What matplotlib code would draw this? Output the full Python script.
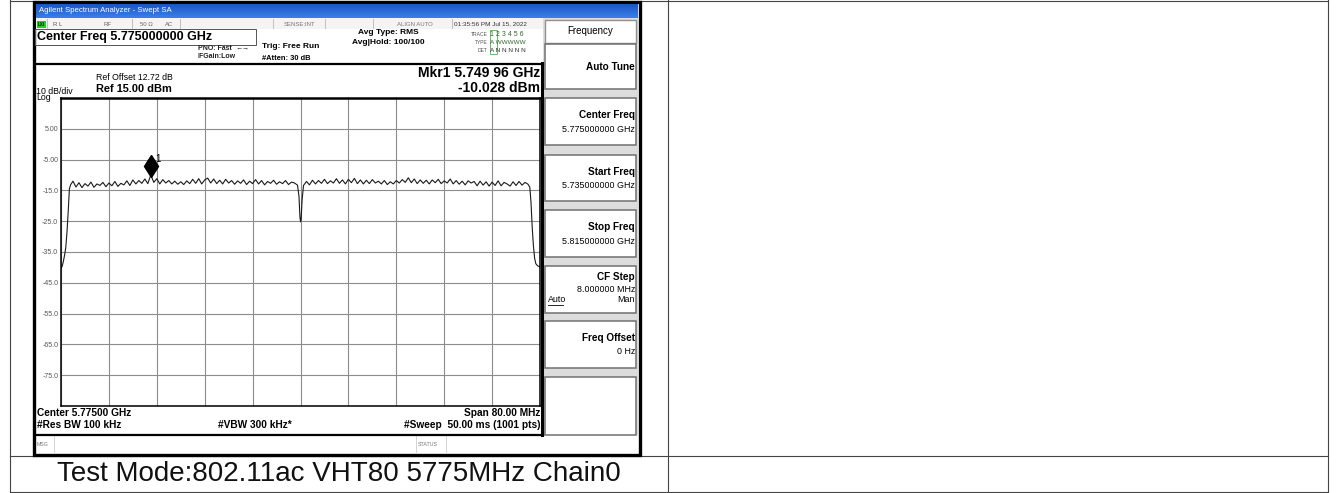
import numpy as np
import matplotlib
matplotlib.use('Agg')
import matplotlib.pyplot as plt
from matplotlib.patches import Rectangle
from matplotlib import transforms

plt.rcParams['font.family'] = ['Liberation Sans', 'DejaVu Sans']

# sweep settings
start_mhz = 5735.0
stop_mhz = 5815.0
ref_dbm = 15.0
bottom_dbm = -85.0
ytick_vals = [5, -5, -15, -25, -35, -45, -55, -65, -75]
ytick_text = ['5.00', '-5.00', '-15.0', '-25.0', '-35.0', '-45.0', '-55.0', '-65.0', '-75.0']

# lower skirt of the channel
skirt_lo_f = [5735.0, 5735.2, 5735.4, 5735.6, 5735.8, 5736.0, 5736.2, 5736.4, 5736.6, 5736.8]
skirt_lo_db = [-40.3, -39.6, -38.0, -36.0, -33.5, -28.5, -22.0, -14.5, -13.2, -12.6]

# in-band level, 0.5 MHz apart, 5737.0 .. 5774.5 MHz
band_a_start = 5737.0
band_a_db = [-12.0, -13.9, -12.5, -14.1, -12.8, -13.6, -12.3, -14.0, -12.9, -13.4,
             -12.4, -13.8, -12.6, -13.5, -12.1, -13.7, -12.7, -13.2, -11.9, -13.4,
             -11.6, -12.9, -11.8, -12.7, -11.3, -12.8, -10.0, -12.4, -11.2, -12.9,
             -11.5, -12.6, -11.8, -12.9, -12.0, -13.0, -12.2, -13.1, -11.9, -12.8,
             -11.4, -12.7, -11.2, -12.9, -11.6, -11.0, -12.6, -11.3, -12.8, -11.7,
             -12.9, -11.4, -12.6, -11.8, -13.0, -11.9, -12.7, -11.6, -13.1, -12.0,
             -12.8, -11.5, -12.9, -11.8, -13.2, -12.1, -12.7, -11.7, -13.0, -12.2,
             -12.8, -11.8, -13.1, -12.3, -12.6, -13.3]

# notch at the centre frequency
notch_f = [5774.75, 5774.9, 5775.0, 5775.1, 5775.25]
notch_db = [-17.0, -23.5, -25.2, -24.6, -18.5]

# in-band level, 0.5 MHz apart, 5775.5 .. 5813.0 MHz
band_b_start = 5775.5
band_b_db = [-13.4, -12.1, -13.2, -11.7, -12.9, -11.8, -12.7, -11.4, -12.8, -11.9,
             -12.6, -11.2, -12.7, -11.6, -12.9, -11.4, -12.5, -11.1, -12.8, -11.6,
             -12.9, -11.7, -12.8, -11.5, -12.6, -12.0, -12.9, -11.8, -13.1, -12.2,
             -12.9, -11.8, -12.6, -11.5, -12.4, -10.9, -12.5, -11.3, -12.8, -11.6,
             -12.7, -11.7, -12.9, -11.6, -12.5, -11.4, -12.8, -11.9, -12.6, -11.3,
             -12.9, -11.8, -13.0, -12.0, -13.2, -11.9, -12.6, -12.1, -13.5, -12.0,
             -13.3, -12.2, -13.6, -12.3, -13.4, -11.9, -13.5, -12.4, -12.9, -13.6,
             -12.2, -13.4, -12.1, -13.3, -12.4, -13.0]

# upper skirt
skirt_hi_f = [5813.3, 5813.5, 5813.7, 5813.9, 5814.1, 5814.3, 5814.6, 5815.0]
skirt_hi_db = [-14.0, -19.0, -27.0, -33.0, -37.0, -38.8, -39.5, -39.8]

mkr_f = 5749.96
mkr_db = -10.028

softkeys = [('Auto Tune', ''), ('Center Freq', '5.775000000 GHz'),
            ('Start Freq', '5.735000000 GHz'), ('Stop Freq', '5.815000000 GHz'),
            ('CF Step', '8.000000 MHz'), ('Freq Offset', '0 Hz'), ('', '')]
caption = 'Test Mode:802.11ac VHT80 5775MHz Chain0'

band_a_f = band_a_start + 0.5 * np.arange(len(band_a_db))
band_b_f = band_b_start + 0.5 * np.arange(len(band_b_db))
freq = np.concatenate([skirt_lo_f, band_a_f, notch_f, band_b_f, skirt_hi_f])
level = np.concatenate([skirt_lo_db, band_a_db, notch_db, band_b_db, skirt_hi_db])

W, H = 1336, 493
fig = plt.figure(figsize=(W / 100, H / 100), dpi=100)
bg = fig.add_axes([0, 0, 1, 1])
bg.set_xlim(0, W)
bg.set_ylim(H, 0)
bg.axis('off')


def box(x0, y0, x1, y1, fc='none', ec='none', lw=0.7, z=1):
    bg.add_patch(Rectangle((x0, y0), x1 - x0, y1 - y0, facecolor=fc, edgecolor=ec, linewidth=lw, zorder=z))


def txt(x, y, s, size=6, bold=False, ha='left', color='black', **kw):
    bg.text(x, y, s, fontsize=size, fontweight='bold' if bold else 'normal',
            ha=ha, va='center', color=color, zorder=10, **kw)


# table lines
tc = '#444444'
for x in (10, 668, 1328):
    bg.plot([x, x], [0, 492], color=tc, lw=0.8)
for y in (0.5, 456, 492):
    bg.plot([10, 1328], [y, y], color=tc, lw=0.8)

# screenshot frame
box(34, 2, 640, 455, fc='white', ec='black', lw=2.4, z=2)

# title bar
grad = np.linspace(0, 1, 20).reshape(-1, 1)
bg.imshow(grad, extent=(36, 638, 18, 4), cmap=matplotlib.colors.LinearSegmentedColormap.from_list(
    'bar', ['#1a56c8', '#3b7fe6']), aspect='auto', zorder=3)
bg.set_xlim(0, W)
bg.set_ylim(H, 0)
txt(39, 11, 'Agilent Spectrum Analyzer - Swept SA', size=5.6, color='white')

# status row
box(36, 18, 543, 29, fc='#f4f4f4', ec='none', z=3)
for x in (47, 132, 180, 273, 325, 373, 452):
    bg.plot([x, x], [19, 28], color='#b8b8b8', lw=0.6, zorder=4)
box(37, 20.5, 46, 27.5, fc='#22cc22', ec='none', z=4)
txt(38, 24, 'LXI', size=3.3, bold=True, color='#003300')
txt(53, 24, 'R L', size=4.3, color='#555555')
txt(107, 24, 'RF', size=4.3, color='#666666', ha='center')
txt(140, 24, '50 Ω', size=4.3, color='#666666')
txt(165, 24, 'AC', size=4.3, color='#666666')
txt(300, 24, 'SENSE:INT', size=4.3, color='#777777', ha='center')
txt(415, 24, 'ALIGN AUTO', size=4.3, color='#777777', ha='center')
txt(454, 24, '01:35:56 PM Jul 15, 2022', size=4.6, color='#333333')

# settings panel
box(35, 29, 256, 45, ec='#555555', lw=0.7, z=4)
txt(37, 37, 'Center Freq 5.775000000 GHz', size=9.0, bold=True)
txt(232, 48, 'PNO: Fast', size=5.0, bold=True, ha='right', color='#222222')
txt(236, 48, '←→', size=5.0, color='#222222')
txt(236, 57, 'IFGain:Low', size=5.0, bold=True, ha='right', color='#222222')
txt(262, 46, 'Trig: Free Run', size=6.0, bold=True)
txt(262, 58, '#Atten: 30 dB', size=5.4, bold=True)
txt(388, 33, 'Avg Type: RMS', size=6.0, bold=True, ha='center')
txt(388, 42, 'Avg|Hold: 100/100', size=6.0, bold=True, ha='center')
txt(488, 34, 'TRACE', size=3.6, ha='right', color='#555555')
txt(488, 42, 'TYPE', size=3.6, ha='right', color='#555555')
txt(488, 50, 'DET', size=3.6, ha='right', color='#555555')
box(489.5, 29.5, 497, 54, ec='#55aa55', lw=0.6, z=4)
txt(490, 34, '1 2 3 4 5 6', size=5.0, color='#336633')
txt(490, 42, 'A WWWWW', size=4.6, color='#336633')
txt(490, 50, 'A N N N N N', size=4.6, color='#333333')
bg.plot([36, 543], [63.5, 63.5], color='black', lw=1.6, zorder=5)

# screen annotations
txt(96, 78, 'Ref Offset 12.72 dB', size=6.3)
txt(96, 89, 'Ref 15.00 dBm', size=7.9, bold=True)
txt(36, 91, '10 dB/div', size=6.3)
txt(36, 98, 'Log', size=6.3)
txt(540, 73, 'Mkr1 5.749 96 GHz', size=10.0, bold=True, ha='right')
txt(540, 88, '-10.028 dBm', size=10.0, bold=True, ha='right')
txt(37, 413, 'Center 5.77500 GHz', size=7.3, bold=True)
txt(37, 425, '#Res BW 100 kHz', size=7.3, bold=True)
txt(218, 425, '#VBW 300 kHz*', size=7.3, bold=True)
txt(540, 413, 'Span 80.00 MHz', size=7.3, bold=True, ha='right')
txt(540, 425, '#Sweep  50.00 ms (1001 pts)', size=7.3, bold=True, ha='right')
bg.plot([36, 543], [434.5, 434.5], color='black', lw=1.6, zorder=5)
bg.plot([542, 542], [63, 435], color='black', lw=2.2, zorder=5)
for x in (54, 416, 446):
    bg.plot([x, x], [436, 452], color='#cccccc', lw=0.6, zorder=4)
txt(37, 444, 'MSG', size=3.8, color='#777777')
txt(418, 444, 'STATUS', size=3.8, color='#777777')

# softkey panel
box(543, 18, 638, 435, fc='#dcdcdc', ec='none', z=3)
box(545, 20, 636, 43, fc='white', ec='#909090', lw=1.0, z=4)
txt(590, 31, 'Frequency', size=7.0, ha='center')
key_tops = [44, 98, 155, 210, 266, 321, 377]
key_h = [45, 47, 46, 47, 47, 47, 58]
for (lab, sub), top, hgt in zip(softkeys, key_tops, key_h):
    box(545, top, 636, top + hgt, fc='white', ec='#707070', lw=1.1, z=4)
    cf = lab == 'CF Step'
    if lab:
        ly = top + hgt / 2 if not sub else top + (11 if cf else 17)
        txt(635, ly, lab, size=7.2, bold=True, ha='right')
    if sub:
        txt(635, top + (23 if cf else 31), sub, size=6.4, ha='right')
    if cf:
        txt(548, top + 34, 'Auto', size=6.4)
        bg.plot([548, 563], [top + 38.5, top + 38.5], color='black', lw=0.6, zorder=10)
        txt(635, top + 34, 'Man', size=6.4, ha='right')

# caption
txt(339, 474, caption, size=20.0, color='#111111', ha='center')

# graticule with trace
gx0, gx1, gy0, gy1 = 61, 540, 98, 406
ax = fig.add_axes([gx0 / W, 1 - gy1 / H, (gx1 - gx0) / W, (gy1 - gy0) / H])
ax.set_xlim(start_mhz, stop_mhz)
ax.set_ylim(bottom_dbm, ref_dbm)
ax.set_xticks(np.linspace(start_mhz, stop_mhz, 11))
ax.set_yticks(np.linspace(bottom_dbm, ref_dbm, 11), minor=True)
ax.set_yticks(ytick_vals)
ax.set_yticklabels(ytick_text)
ax.tick_params(axis='y', which='both', length=0, pad=2, labelsize=5, labelcolor='#555555')
ax.tick_params(axis='x', length=0, labelbottom=False)
ax.grid(True, which='both', color='#8c8c8c', lw=0.8)
for s in ax.spines.values():
    s.set_color('black')
    s.set_linewidth(1.1)
ax.spines['top'].set_linewidth(1.8)
ax.plot(freq, level, color='#1a1a1a', lw=0.8)
mk = transforms.offset_copy(ax.transData, fig=fig, y=9, units='dots')
ax.plot([mkr_f], [mkr_db], marker='d', markersize=11.5, color='black', transform=mk, clip_on=False)
ax.text(mkr_f, mkr_db, '1', transform=transforms.offset_copy(ax.transData, fig=fig, x=5, y=16, units='dots'),
        fontsize=7, va='center', ha='left')

fig.savefig('out.png', dpi=100)
